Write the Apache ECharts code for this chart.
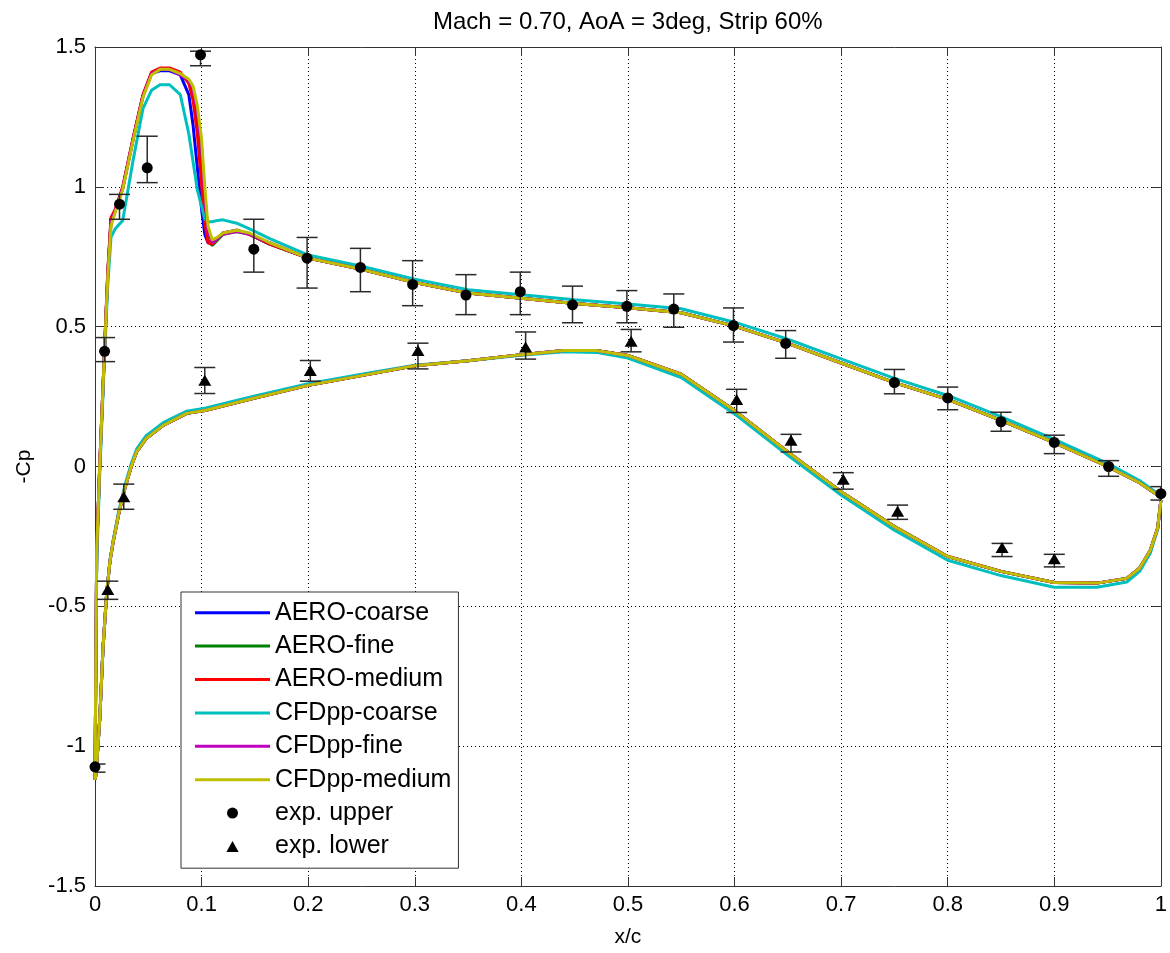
<!DOCTYPE html>
<html>
<head>
<meta charset="utf-8">
<script src="https://cdn.jsdelivr.net/npm/echarts@6/dist/echarts.min.js"></script>
<style>
  html, body { margin: 0; padding: 0; background: #fff; }
  #chart { width: 1170px; height: 953px; }
</style>
</head>
<body>
<div id="chart"></div>
<script>
// ---------- data ----------
const xTicks = [0, 0.1, 0.2, 0.3, 0.4, 0.5, 0.6, 0.7, 0.8, 0.9, 1];
const yTicks = [-1.5, -1, -0.5, 0, 0.5, 1, 1.5];

// upper surface, leading-edge region
const xUpperLE = [0, 0.0008, 0.0016, 0.0044, 0.009, 0.012, 0.015, 0.019, 0.026, 0.036, 0.045, 0.053, 0.061, 0.070, 0.080, 0.088, 0.092, 0.096, 0.100, 0.103, 0.106, 0.110, 0.115, 0.120, 0.133, 0.145, 0.164];
const cpUpperLE_AEROcoarse  = [-1.12, -0.70, -0.30, 0.0, 0.42, 0.69, 0.88, 0.915, 0.995, 1.175, 1.325, 1.405, 1.415, 1.415, 1.40, 1.33, 1.22, 1.07, 0.92, 0.83, 0.80, 0.80, 0.815, 0.835, 0.845, 0.83, 0.795];
const cpUpperLE_AEROfine    = [-1.12, -0.70, -0.30, 0.0, 0.42, 0.69, 0.88, 0.915, 0.995, 1.175, 1.325, 1.405, 1.42, 1.42, 1.405, 1.375, 1.33, 1.23, 1.08, 0.92, 0.81, 0.79, 0.81, 0.83, 0.84, 0.83, 0.795];
const cpUpperLE_AEROmedium  = [-1.12, -0.70, -0.30, 0.0, 0.43, 0.70, 0.89, 0.92, 1.00, 1.18, 1.33, 1.41, 1.425, 1.425, 1.41, 1.37, 1.31, 1.19, 1.01, 0.87, 0.80, 0.795, 0.815, 0.835, 0.845, 0.83, 0.795];
const cpUpperLE_CFDcoarse   = [-1.12, -0.75, -0.35, -0.03, 0.40, 0.65, 0.82, 0.85, 0.88, 1.10, 1.28, 1.345, 1.365, 1.365, 1.33, 1.19, 1.09, 0.99, 0.93, 0.885, 0.875, 0.875, 0.88, 0.882, 0.87, 0.85, 0.815];
const cpUpperLE_CFDfine     = [-1.12, -0.70, -0.30, 0.0, 0.42, 0.69, 0.87, 0.915, 0.995, 1.175, 1.325, 1.405, 1.42, 1.42, 1.40, 1.38, 1.35, 1.27, 1.14, 0.97, 0.84, 0.80, 0.815, 0.83, 0.84, 0.83, 0.80];
const cpUpperLE_CFDmedium   = [-1.12, -0.70, -0.30, 0.0, 0.42, 0.68, 0.86, 0.91, 0.99, 1.17, 1.32, 1.40, 1.42, 1.42, 1.405, 1.385, 1.36, 1.29, 1.17, 1.00, 0.86, 0.81, 0.82, 0.835, 0.845, 0.835, 0.80];

// upper surface, aft region
const xUpperAft = [0.2, 0.25, 0.3, 0.35, 0.4, 0.45, 0.5, 0.55, 0.6, 0.65, 0.7, 0.75, 0.8, 0.85, 0.9, 0.95, 0.98, 1.0];
const cpUpperAft          = [0.745, 0.705, 0.658, 0.62, 0.602, 0.583, 0.568, 0.55, 0.502, 0.44, 0.37, 0.30, 0.24, 0.165, 0.085, 0.0, -0.058, -0.11];
const cpUpperAft_CFDcoarse = [0.756, 0.716, 0.67, 0.632, 0.614, 0.596, 0.581, 0.564, 0.516, 0.455, 0.385, 0.315, 0.254, 0.178, 0.097, 0.011, -0.05, -0.105];

// lower surface
const xLower = [0, 0.001, 0.0045, 0.0075, 0.011, 0.014, 0.017, 0.022, 0.028, 0.034, 0.039, 0.048, 0.064, 0.086, 0.103, 0.15, 0.2, 0.25, 0.3, 0.35, 0.4, 0.44, 0.47, 0.5, 0.55, 0.6, 0.65, 0.7, 0.75, 0.8, 0.85, 0.9, 0.94, 0.968, 0.98, 0.99, 0.997, 1.0];
const cpLower           = [-1.12, -1.10, -0.90, -0.65, -0.45, -0.34, -0.27, -0.174, -0.078, 0.0, 0.052, 0.10, 0.147, 0.19, 0.20, 0.245, 0.29, 0.325, 0.36, 0.378, 0.40, 0.415, 0.415, 0.397, 0.33, 0.20, 0.052, -0.09, -0.215, -0.322, -0.375, -0.415, -0.417, -0.40, -0.364, -0.30, -0.22, -0.12];
const cpLower_CFDcoarse = [-1.12, -1.10, -0.90, -0.65, -0.45, -0.34, -0.265, -0.165, -0.068, 0.01, 0.062, 0.11, 0.157, 0.198, 0.208, 0.252, 0.296, 0.33, 0.362, 0.378, 0.398, 0.41, 0.408, 0.388, 0.318, 0.188, 0.04, -0.102, -0.228, -0.335, -0.39, -0.432, -0.432, -0.413, -0.375, -0.31, -0.225, -0.12];

// experiment
const expUpperX  = [0.0, 0.009, 0.023, 0.049, 0.099, 0.149, 0.199, 0.249, 0.298, 0.348, 0.399, 0.448, 0.499, 0.543, 0.599, 0.648, 0.75, 0.80, 0.85, 0.90, 0.951, 1.0];
const expUpperCp = [-1.074, 0.412, 0.938, 1.068, 1.472, 0.777, 0.745, 0.712, 0.651, 0.613, 0.625, 0.578, 0.573, 0.563, 0.504, 0.44, 0.30, 0.245, 0.16, 0.086, 0.0, -0.097];
const expUpperLo = [-1.093, 0.375, 0.884, 1.015, 1.433, 0.695, 0.638, 0.625, 0.575, 0.543, 0.543, 0.514, 0.514, 0.498, 0.445, 0.387, 0.26, 0.203, 0.126, 0.046, -0.035, -0.12];
const expUpperHi = [-1.064, 0.461, 0.973, 1.181, 1.485, 0.884, 0.819, 0.78, 0.736, 0.686, 0.695, 0.645, 0.629, 0.617, 0.567, 0.486, 0.347, 0.284, 0.194, 0.112, 0.021, -0.072];

const expLowerX  = [0.012, 0.027, 0.103, 0.202, 0.303, 0.404, 0.503, 0.602, 0.653, 0.702, 0.753, 0.851, 0.90];
const expLowerCp = [-0.44, -0.108, 0.308, 0.343, 0.415, 0.427, 0.448, 0.24, 0.094, -0.046, -0.16, -0.29, -0.33];
const expLowerLo = [-0.475, -0.153, 0.261, 0.305, 0.349, 0.384, 0.41, 0.193, 0.052, -0.081, -0.189, -0.322, -0.359];
const expLowerHi = [-0.41, -0.063, 0.354, 0.379, 0.441, 0.481, 0.49, 0.276, 0.115, -0.022, -0.138, -0.275, -0.314];

const seriesNames = ['AERO-coarse', 'AERO-fine', 'AERO-medium', 'CFDpp-coarse', 'CFDpp-fine', 'CFDpp-medium'];
const seriesColors = ['#0000ff', '#008000', '#ff0000', '#00bfbf', '#bf00bf', '#bfbf00'];

// ---------- build ----------
function loop(upLE, upAft, low) {
  const xu = xUpperLE.concat(xUpperAft);
  const cu = upLE.concat(upAft);
  const pts = [];
  for (let i = xu.length - 1; i >= 0; i--) pts.push([xu[i], cu[i]]);
  for (let i = 0; i < xLower.length; i++) pts.push([xLower[i], low[i]]);
  return pts;
}
const curves = [
  loop(cpUpperLE_AEROcoarse, cpUpperAft, cpLower),
  loop(cpUpperLE_AEROfine, cpUpperAft, cpLower),
  loop(cpUpperLE_AEROmedium, cpUpperAft, cpLower),
  loop(cpUpperLE_CFDcoarse, cpUpperAft_CFDcoarse, cpLower_CFDcoarse),
  loop(cpUpperLE_CFDfine, cpUpperAft, cpLower),
  loop(cpUpperLE_CFDmedium, cpUpperAft, cpLower)
];
const zip2 = (a, b) => a.map((v, i) => [v, b[i]]);
const zip3 = (a, b, c) => a.map((v, i) => [v, b[i], c[i]]);

const FONT = 'Liberation Sans';
const chart = echarts.init(document.getElementById('chart'), null, { renderer: 'canvas' });

function errRender(params, api) {
  const x = api.value(0), lo = api.value(1), hi = api.value(2);
  const a = api.coord([x, lo]), b = api.coord([x, hi]);
  const w = 10.5;
  const style = { stroke: '#2a2a2a', lineWidth: 1.5 };
  return {
    type: 'group',
    children: [
      { type: 'line', shape: { x1: a[0], y1: a[1], x2: b[0], y2: b[1] }, style },
      { type: 'line', shape: { x1: a[0] - w, y1: a[1], x2: a[0] + w, y2: a[1] }, style },
      { type: 'line', shape: { x1: b[0] - w, y1: b[1], x2: b[0] + w, y2: b[1] }, style }
    ]
  };
}

const lineSeries = seriesNames.map((n, i) => ({
  name: n, type: 'line', data: curves[i], symbol: 'none', showSymbol: false,
  lineStyle: { color: seriesColors[i], width: 3 }, itemStyle: { color: seriesColors[i] },
  clip: true, silent: true, z: 2
}));

const linePath = 'path://M0,0 L75,0 L75,3 L0,3 Z';
const triPath = 'path://M5,0 L10,9 L0,9 Z';

const option = {
  animation: false,
  backgroundColor: '#fff',
  title: {
    text: 'Mach = 0.70, AoA = 3deg, Strip 60%',
    left: 428, top: 5,
    textStyle: { fontFamily: FONT, fontSize: 24, fontWeight: 'normal', color: '#000' }
  },
  grid: { left: 95, right: 7, top: 47, bottom: 64, containLabel: false, show: false },
  legend: {
    orient: 'vertical', left: 181, top: 592,
    backgroundColor: '#fff', borderColor: '#333', borderWidth: 1,
    padding: [4, 7, 5, 14],
    itemWidth: 75, itemHeight: 11, itemGap: 0,
    symbolKeepAspect: true,
    textStyle: { fontFamily: FONT, fontSize: 25, color: '#000', lineHeight: 33.4 },
    data: seriesNames.map(n => ({ name: n, icon: linePath })).concat([
      { name: 'exp. upper', icon: 'circle' },
      { name: 'exp. lower', icon: triPath }
    ])
  },
  xAxis: [{
    type: 'value', min: 0, max: 1, interval: 0.1,
    name: 'x/c', nameLocation: 'middle', nameGap: 41,
    nameTextStyle: { fontFamily: FONT, fontSize: 21, color: '#000' },
    axisLine: { show: true, onZero: false, lineStyle: { color: '#333', width: 1 } },
    axisTick: { show: true, inside: true, length: 9, lineStyle: { color: '#333' } },
    axisLabel: { fontFamily: FONT, fontSize: 22, color: '#000', margin: 8 },
    splitLine: { show: true, lineStyle: { color: '#000', width: 1, type: [1, 3] } }
  }, {
    type: 'value', min: 0, max: 1, interval: 0.1, position: 'top',
    axisLine: { show: true, onZero: false, lineStyle: { color: '#333', width: 1 } },
    axisTick: { show: true, inside: true, length: 9, lineStyle: { color: '#333' } },
    axisLabel: { show: false }, splitLine: { show: false }
  }],
  yAxis: [{
    type: 'value', min: -1.5, max: 1.5, interval: 0.5,
    name: '-Cp', nameLocation: 'middle', nameGap: 60, nameRotate: 90,
    nameTextStyle: { fontFamily: FONT, fontSize: 21, color: '#000' },
    axisLine: { show: true, onZero: false, lineStyle: { color: '#333', width: 1 } },
    axisTick: { show: true, inside: true, length: 9, lineStyle: { color: '#333' } },
    axisLabel: { fontFamily: FONT, fontSize: 22, color: '#000', margin: 9 },
    splitLine: { show: true, lineStyle: { color: '#000', width: 1, type: [1, 3] } }
  }, {
    type: 'value', min: -1.5, max: 1.5, interval: 0.5, position: 'right',
    axisLine: { show: true, onZero: false, lineStyle: { color: '#333', width: 1 } },
    axisTick: { show: true, inside: true, length: 9, lineStyle: { color: '#333' } },
    axisLabel: { show: false }, splitLine: { show: false }
  }],
  series: lineSeries.concat([
    {
      name: 'err-upper', type: 'custom', renderItem: errRender, clip: true, silent: true,
      data: zip3(expUpperX, expUpperLo, expUpperHi), encode: { x: 0, y: [1, 2] }, z: 3
    },
    {
      name: 'err-lower', type: 'custom', renderItem: errRender, clip: true, silent: true,
      data: zip3(expLowerX, expLowerLo, expLowerHi), encode: { x: 0, y: [1, 2] }, z: 3
    },
    {
      name: 'exp. upper', type: 'scatter', data: zip2(expUpperX, expUpperCp),
      symbol: 'circle', symbolSize: 11, itemStyle: { color: '#000', opacity: 1 }, clip: true, silent: true, z: 4
    },
    {
      name: 'exp. lower', type: 'scatter', data: zip2(expLowerX, expLowerCp),
      symbol: 'triangle', symbolSize: [13, 11], itemStyle: { color: '#000', opacity: 1 }, clip: true, silent: true, z: 4
    }
  ])
};
chart.setOption(option);
</script>
</body>
</html>
